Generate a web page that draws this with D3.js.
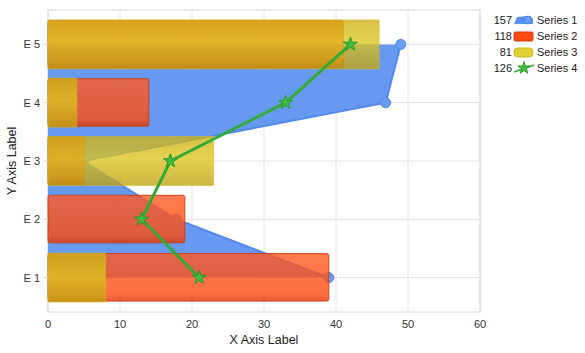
<!DOCTYPE html>
<html><head><meta charset="utf-8">
<script src="https://cdn.jsdelivr.net/npm/d3@7"></script>
<style>body{margin:0;background:#fff}svg{display:block;font-family:"Liberation Sans",Arial,sans-serif}</style>
</head><body>
<script>
const categories = ["E 1","E 2","E 3","E 4","E 5"];
const series1 = [39, 17.8, 4.9, 46.9, 49];
const series2 = [39, 19, 5, 14, 41];
const series3 = [8, 0, 23, 4, 46];
const series4 = [21, 13, 17, 33, 42];
const xTicks = [0,10,20,30,40,50,60];
const seriesNames = ["Series 1","Series 2","Series 3","Series 4"];
const legendTotals = [157, 118, 81, 126];

const W=585,H=353, L=48, R=480, T=10, B=312;
const svg=d3.select("body").append("svg").attr("width",W).attr("height",H);
const defs=svg.append("defs");
const x=d3.scaleLinear().domain([0,60]).range([L,R]);
const y=d3.scalePoint().domain(categories).range([B,T]).padding(0.59);
const bh=49;

// gradients
const g2=defs.append("linearGradient").attr("id","g2").attr("x1",0).attr("y1",0).attr("x2",0).attr("y2",1);
[[0,"#ff5a22"],[0.85,"#ff4a10"],[1,"#e03000"]].forEach(s=>g2.append("stop").attr("offset",s[0]).attr("stop-color",s[1]));
const g3=defs.append("linearGradient").attr("id","g3").attr("x1",0).attr("y1",0).attr("x2",0).attr("y2",1);
[[0,"#cdb012"],[0.45,"#dcc620"],[1,"#c0a010"]].forEach(s=>g3.append("stop").attr("offset",s[0]).attr("stop-color",s[1]));

// grid
svg.append("g").selectAll("line").data(xTicks).join("line")
 .attr("x1",d=>x(d)).attr("x2",d=>x(d)).attr("y1",T).attr("y2",B).attr("stroke","#e2e2e2");
svg.append("g").selectAll("line").data(categories).join("line")
 .attr("x1",L).attr("x2",R).attr("y1",d=>y(d)).attr("y2",d=>y(d)).attr("stroke","#e2e2e2");
svg.append("rect").attr("x",L).attr("y",T).attr("width",R-L).attr("height",B-T).attr("fill","none").attr("stroke","#dadada");

// series 1 area
const pts=categories.map((c,i)=>[series1[i],c]);
const area=d3.area().y(d=>y(d[1])).x0(x(0)).x1(d=>x(d[0]));
svg.append("path").datum(pts).attr("d",area).attr("fill","#5a90f0").attr("fill-opacity",0.92);
svg.append("path").datum(pts).attr("d",d3.line().x(d=>x(d[0])).y(d=>y(d[1])))
 .attr("fill","none").attr("stroke","#5088ee").attr("stroke-width",2);
svg.append("g").selectAll("circle").data(pts).join("circle")
 .attr("cx",d=>x(d[0])).attr("cy",d=>y(d[1])).attr("r",5).attr("fill","#6a9cf2").attr("stroke","#4f86ea");

// series 2 bars
svg.append("g").selectAll("rect").data(categories.map((c,i)=>[c,series2[i]])).join("rect")
 .attr("x",x(0)).attr("y",d=>y(d[0])-bh/2+0.5).attr("width",d=>x(d[1])-x(0)).attr("height",bh-1.5)
 .attr("rx",2).attr("fill","url(#g2)").attr("fill-opacity",0.8).attr("stroke","#d03a08").attr("stroke-opacity",0.9);

// series 3 bars
svg.append("g").selectAll("rect").data(categories.map((c,i)=>[c,series3[i]]).filter(d=>d[1]>0)).join("rect")
 .attr("x",x(0)).attr("y",d=>y(d[0])-bh/2).attr("width",d=>x(d[1])-x(0)).attr("height",bh)
 .attr("fill","url(#g3)").attr("fill-opacity",0.78).attr("stroke","#d4c020").attr("stroke-opacity",0.5);

// series 4 line + stars
const p4=categories.map((c,i)=>[series4[i],c]);
svg.append("path").datum(p4).attr("d",d3.line().x(d=>x(d[0])).y(d=>y(d[1])))
 .attr("fill","none").attr("stroke","#33aa33").attr("stroke-width",3);
const star=d3.symbol().type(d3.symbolStar).size(60);
svg.append("g").selectAll("path").data(p4).join("path")
 .attr("d",star).attr("transform",d=>`translate(${x(d[0])},${y(d[1])})`)
 .attr("fill","#44bb44").attr("stroke","#229922").attr("stroke-width",1);

// axes labels
svg.append("g").selectAll("text").data(xTicks).join("text")
 .attr("x",d=>x(d)).attr("y",328).attr("text-anchor","middle").attr("font-size",11).attr("fill","#333").text(d=>d);
svg.append("g").selectAll("text").data(categories).join("text")
 .attr("x",40).attr("y",d=>y(d)+4).attr("text-anchor","end").attr("font-size",11).attr("fill","#333").text(d=>d);
svg.append("g").selectAll("line").data(categories).join("line")
 .attr("x1",44).attr("x2",L).attr("y1",d=>y(d)).attr("y2",d=>y(d)).attr("stroke","#ccc");
svg.append("text").attr("x",264).attr("y",344).attr("text-anchor","middle").attr("font-size",12.5).attr("fill","#222").text("X Axis Label");
svg.append("text").attr("transform","translate(16,161) rotate(-90)").attr("text-anchor","middle").attr("font-size",12.5).attr("fill","#222").text("Y Axis Label");

// legend
const lg=svg.append("g");
const ly=i=>20+i*16;
seriesNames.forEach((n,i)=>{
  lg.append("text").attr("x",512).attr("y",ly(i)+4).attr("text-anchor","end").attr("font-size",11).attr("fill","#222").text(legendTotals[i]);
  lg.append("text").attr("x",537).attr("y",ly(i)+4).attr("font-size",11).attr("fill","#222").text(n);
});
// icon 1
lg.append("path").attr("d",`M514,${ly(0)+4} L517,${ly(0)-3} L528,${ly(0)-4} L533,${ly(0)-1} L533,${ly(0)+4} Z`).attr("fill","#5a90f0");
lg.append("circle").attr("cx",528).attr("cy",ly(0)).attr("r",4).attr("fill","#6a9cf2").attr("stroke","#4f86ea");
// icon 2
lg.append("rect").attr("x",514).attr("y",ly(1)-4).attr("width",19).attr("height",9).attr("rx",1.5).attr("fill","#ff4a12").attr("stroke","#d03a08");
// icon 3
lg.append("rect").attr("x",514).attr("y",ly(2)-4).attr("width",19).attr("height",9).attr("rx",4).attr("fill","#e0d030").attr("stroke","#c8b420");
// icon 4
lg.append("line").attr("x1",514).attr("y1",ly(3)+4).attr("x2",534).attr("y2",ly(3)-3).attr("stroke","#33aa33").attr("stroke-width",1.5);
lg.append("path").attr("d",d3.symbol().type(d3.symbolStar).size(45)).attr("transform",`translate(524,${ly(3)})`).attr("fill","#44bb44").attr("stroke","#229922");
</script>
</body></html>
